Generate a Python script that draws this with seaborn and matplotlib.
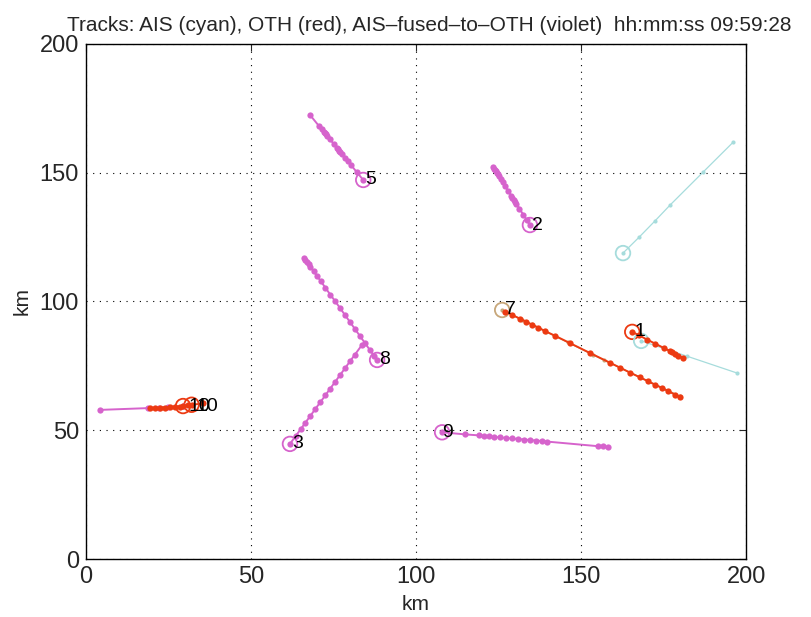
import matplotlib
matplotlib.use("Agg")
import matplotlib.pyplot as plt
import seaborn as sns

sns.set_style("white")
plt.rcParams['font.family'] = ['Liberation Sans', 'DejaVu Sans']

title = "Tracks: AIS (cyan), OTH (red), AIS\u2013fused\u2013to\u2013OTH (violet)  hh:mm:ss 09:59:28"
ticks = [0, 50, 100, 150, 200]

# Fused (violet) tracks
t5_x = [67.9, 70.5, 71.5, 72.0, 72.3, 72.7, 73.0, 73.9, 75.0, 76.0, 76.4, 76.7, 77.1, 77.5, 78.4, 79.4, 80.3, 82.0, 84.0]
t5_y = [172.4, 168.3, 166.8, 166.0, 165.5, 164.9, 164.4, 163.0, 161.3, 159.7, 159.1, 158.6, 158.0, 157.4, 155.9, 154.4, 153.0, 150.3, 147.2]
t2_x = [123.3, 123.6, 123.8, 124.1, 124.4, 124.7, 125.0, 125.6, 126.2, 127.0, 128.0, 128.8, 129.2, 129.6, 130.0, 130.4, 131.3, 132.5, 133.5, 134.5]
t2_y = [152.2, 151.6, 151.2, 150.6, 150.0, 149.4, 148.8, 147.6, 146.4, 144.8, 142.8, 141.1, 140.3, 139.5, 138.7, 137.9, 136.1, 133.7, 131.7, 129.7]
t8_x = [66.1, 66.5, 67.0, 67.5, 68.0, 69.0, 70.0, 71.2, 72.5, 74.0, 75.5, 77.0, 78.5, 80.0, 81.5, 83.0, 84.5, 86.0, 87.2, 88.2]
t8_y = [116.9, 116.2, 115.3, 114.4, 113.5, 111.7, 109.9, 107.8, 105.4, 102.7, 100.1, 97.4, 94.7, 92.0, 89.3, 86.6, 83.9, 81.2, 79.0, 77.3]
t3_x = [61.8, 63.5, 65.0, 66.5, 68.0, 69.5, 71.0, 72.5, 74.0, 75.5, 77.0, 78.5, 80.0, 81.5, 83.6]
t3_y = [44.7, 47.7, 50.3, 53.0, 55.6, 58.3, 60.9, 63.5, 66.2, 68.8, 71.5, 74.1, 76.8, 79.4, 83.1]
t9_x = [107.9, 114.8, 119.1, 120.6, 122.1, 123.6, 125.5, 127.3, 129.1, 130.9, 132.7, 134.5, 136.4, 138.2, 139.7, 155.2, 156.7, 158.2]
t9_y = [49.2, 48.4, 48.0, 47.8, 47.6, 47.4, 47.2, 47.0, 46.8, 46.6, 46.4, 46.2, 46.0, 45.8, 45.6, 43.8, 43.7, 43.5]
t10v_x = [4.2, 18.8, 22.0, 25.0, 29.4]
t10v_y = [57.9, 58.6, 58.8, 59.0, 59.4]

# OTH (red) tracks
t10r_x = [19.5, 21.0, 22.5, 24.0, 25.5, 27.0, 28.5, 29.4, 31.0, 32.0, 35.5]
t10r_y = [58.5, 58.6, 58.7, 58.8, 58.9, 59.0, 59.2, 59.4, 59.7, 59.9, 60.4]
t7r_x = [127.0, 129.1, 131.5, 133.3, 135.2, 137.0, 139.1, 142.1, 146.7, 152.7, 158.8, 161.8, 164.8, 167.9, 170.3, 172.4, 174.5, 176.4, 178.5, 180.0]
t7r_y = [96.1, 94.8, 93.3, 92.2, 91.0, 89.9, 88.5, 86.7, 83.8, 80.0, 76.2, 74.3, 72.4, 70.5, 69.0, 67.7, 66.4, 65.2, 63.8, 62.9]
t1r_x = [165.5, 167.5, 170.0, 172.5, 175.0, 177.0, 177.6, 178.5, 179.5, 180.9]
t1r_y = [88.2, 86.9, 85.2, 83.6, 82.0, 80.7, 80.3, 79.7, 79.0, 78.1]

# Track 7 fused/AIS (tan)
t7a_x = [126.1, 132.0, 135.0, 139.5, 146.0, 153.5, 157.0, 180.0]
t7a_y = [96.7, 93.0, 91.1, 88.2, 84.1, 79.4, 77.2, 63.2]

# AIS (cyan) tracks
c1_x = [168.2, 182.0, 197.3]
c1_y = [84.7, 78.8, 72.2]
c2_x = [162.7, 167.6, 172.4, 177.0, 187.0, 196.1]
c2_y = [118.8, 125.0, 131.3, 137.5, 150.3, 161.9]

# Track start circles and labels
lab_names = ["5", "2", "8", "3", "9", "7", "1", "10", "10"]
lab_x = [84.0, 134.5, 88.2, 61.8, 107.3, 126.1, 165.5, 30.3, 32.7]
lab_y = [147.2, 129.7, 77.3, 44.7, 49.3, 96.7, 88.2, 59.4, 59.4]

VIOLET = "#d663cc"
RED = "#ec3a12"
CYAN = "#a6dcdc"
TAN = "#c7a77a"

fig = plt.figure(figsize=(8.11, 6.17), dpi=100)
ax = fig.add_axes([0.106, 0.094, 0.814, 0.8347])

def track(x, y, color, lw=1.0, ms=3.5):
    sns.lineplot(x=x, y=y, ax=ax, sort=False, estimator=None, color=color,
                 linewidth=lw, marker="o", markersize=ms, markeredgewidth=0)

for xs, ys in [(t5_x, t5_y), (t2_x, t2_y), (t8_x, t8_y), (t3_x, t3_y), (t9_x, t9_y), (t10v_x, t10v_y)]:
    track(xs, ys, VIOLET, lw=1.4, ms=4.5)
track(c1_x, c1_y, CYAN, lw=0.9, ms=3)
track(c2_x, c2_y, CYAN, lw=0.9, ms=3)
track(t7a_x, t7a_y, TAN, lw=1.0, ms=3)
for xs, ys in [(t10r_x, t10r_y), (t7r_x, t7r_y), (t1r_x, t1r_y)]:
    track(xs, ys, RED, lw=1.4, ms=4.5)

# start circles
circ = [(t5_x[-1], t5_y[-1], VIOLET), (t2_x[-1], t2_y[-1], VIOLET), (t8_x[-1], t8_y[-1], VIOLET),
        (t3_x[0], t3_y[0], VIOLET), (t9_x[0], t9_y[0], VIOLET), (t7a_x[0], t7a_y[0], TAN),
        (t1r_x[0], t1r_y[0], RED), (c1_x[0], c1_y[0], CYAN), (c2_x[0], c2_y[0], CYAN),
        (t10r_x[7], t10r_y[7], RED), (t10r_x[9], t10r_y[9], RED)]
for cx, cy, cc in circ:
    sns.scatterplot(x=[cx], y=[cy], ax=ax, s=110, facecolors="none", edgecolor=cc, linewidth=1.3)

for n, lx, ly in zip(lab_names, lab_x, lab_y):
    ax.text(lx + 0.7, ly, n, fontsize=14, ha="left", va="center", color="black")

ax.set_xlim(0, 200)
ax.set_ylim(0, 200)
ax.set_xticks(ticks)
ax.set_yticks(ticks)
ax.tick_params(axis="both", labelsize=17, direction="in", length=5, top=True, right=True, pad=5)
ax.grid(True, linestyle=(0, (1, 5)), color="black", linewidth=0.8)
for s in ax.spines.values():
    s.set_color("black")
    s.set_linewidth(1.0)
ax.set_xlabel("km", fontsize=15, labelpad=5)
ax.set_ylabel("km", fontsize=15, labelpad=6)
ax.set_title(title, fontsize=15, pad=9, x=0.52)

fig.savefig("out.png", dpi=100)
